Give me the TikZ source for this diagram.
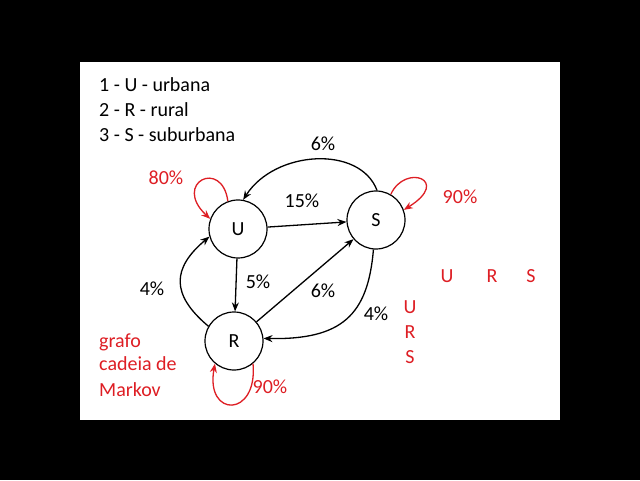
\documentclass[tikz,border=0pt]{standalone}
\usepackage{fontspec}
\setmainfont{Carlito}
\usetikzlibrary{arrows.meta}
\definecolor{redtxt}{RGB}{222,30,36}
\tikzset{
  state/.style={circle,draw,line width=1.2pt,minimum size=58pt,inner sep=0pt,font=\fontsize{20}{24}\selectfont},
  lbl/.style={font=\fontsize{20}{24}\selectfont,inner sep=0pt},
  rlbl/.style={lbl,text=redtxt},
  edge/.style={line width=1.3pt,-{Stealth[length=9pt,width=7pt]}},
  redge/.style={edge,draw=redtxt,-{Stealth[length=9pt,width=7pt]},color=redtxt},
}
\begin{document}
\begin{tikzpicture}[x=1pt,y=1pt]
\useasboundingbox (0,0) rectangle (640,480);
\fill[black] (0,0) rectangle (640,480);
\fill[white] (80,60) rectangle (560,418);
% legend
\node[lbl,anchor=base west] (l1) at (99,388) {1 - U - urbana};
\node[lbl,anchor=base west] (l2) at (99,363) {2 - R - rural};
\node[lbl,anchor=base west] (l3) at (99,338) {3 - S - suburbana};
% states
\node[state] (U) at (238,251) {U};
\node[state] (S) at (376,260) {S};
\node[state] (R) at (234,139) {R};
% edges
\draw[edge] (U) -- (S);
\draw[edge] (U) -- (R);
\draw[edge] (R) -- (S);
\draw[edge] (S.88) .. controls (360,335) and (275,330) .. (U.80);
\draw[edge] (S.-95) .. controls (368,165) and (342,140) .. (R.5);
\draw[edge] (R.150) to[out=140,in=220,looseness=1.4] (U.195);
% self loops
\draw[redge] (U.110) .. controls (222,322) and (172,297) .. (U.160);
\draw[redge] (S.60) .. controls (405,317) and (452,300) .. (S.20);
\draw[redge] (R.-50) .. controls (258,62) and (205,62) .. (R.-130);
% labels
\node[lbl] (p1) at (323,336) {6\%};
\node[lbl] (p2) at (302,279) {15\%};
\node[lbl] (p3) at (152,191) {4\%};
\node[lbl] (p4) at (258,198) {5\%};
\node[lbl] (p5) at (323,189) {6\%};
\node[lbl] (p6) at (376,166) {4\%};
\node[rlbl] (q1) at (166,302) {80\%};
\node[rlbl] (q2) at (460,283) {90\%};
\node[rlbl] (q3) at (270,93) {90\%};
% red notes
\node[rlbl,anchor=base west] (g1) at (99,133) {grafo};
\node[rlbl,anchor=base west] (g2) at (99,110) {cadeia de};
\node[rlbl,anchor=base west] (g3) at (99,84) {Markov};
\node[rlbl,anchor=base] (h1) at (447,197) {U};
\node[rlbl,anchor=base] (h2) at (492,197) {R};
\node[rlbl,anchor=base] (h3) at (531,197) {S};
\node[rlbl,anchor=base] (v1) at (410,167) {U};
\node[rlbl,anchor=base] (v2) at (410,142) {R};
\node[rlbl,anchor=base] (v3) at (410,117) {S};
\end{tikzpicture}
\end{document}
